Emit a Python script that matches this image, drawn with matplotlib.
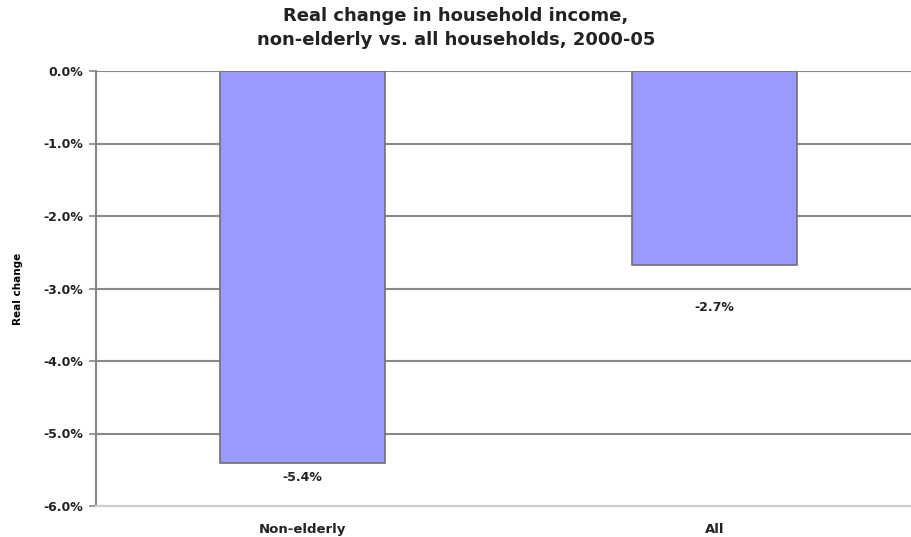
import matplotlib.pyplot as plt
from matplotlib.ticker import FuncFormatter

# dati
categorie = ['Non-elderly', 'All']
valori = [-5.4, -2.68]
etichette = ['-5.4%', '-2.7%']
scarto_etichette = [-15, -42]   # distanza etichetta sotto la barra (pixel)
tick_y = [0, -1, -2, -3, -4, -5, -6]

plt.rcParams['font.family'] = ['DejaVu Sans']

fig = plt.figure(figsize=(9.12, 5.37), dpi=100)
ax = fig.add_axes([96/912, 1 - 506/537, 825/912, 435/537])

x = range(len(categorie))
ax.bar(x, valori, width=0.4, color='#9999FF', edgecolor='#707070', linewidth=1.2, zorder=3)

for i, v in enumerate(valori):
    ax.annotate(etichette[i], (i, v), xytext=(0, scarto_etichette[i]), textcoords='offset pixels',
                ha='center', va='center', fontsize=9, fontweight='bold', color='#222222')

ax.set_xlim(-0.5, 1.5)
ax.set_ylim(-6, 0)
ax.set_yticks(tick_y)
ax.yaxis.set_major_formatter(FuncFormatter(lambda v, p: f'{v:.1f}%'))
ax.grid(axis='y', color='#888888', linewidth=1.5, zorder=0)
ax.set_axisbelow(True)

ax.set_xticks(list(x))
ax.set_xticklabels(categorie, fontsize=9.5, fontweight='bold', color='#222222')
ax.tick_params(axis='x', length=0, pad=12)
ax.tick_params(axis='y', length=5, width=1.2, color='#888888', labelsize=9, pad=4)
for t in ax.get_yticklabels():
    t.set_fontweight('bold')
    t.set_color('#222222')

ax.spines['top'].set_visible(False)
ax.spines['right'].set_visible(False)
ax.spines['left'].set_color('#888888')
ax.spines['left'].set_linewidth(1.5)
ax.spines['bottom'].set_color('#cccccc')
ax.spines['bottom'].set_linewidth(1.5)

ax.set_ylabel('Real change', fontsize=7.5, fontweight='bold')
ax.yaxis.set_label_coords(-0.088, 0.5)

fig.text(0.5, 1 - 16/537, 'Real change in household income,',
         ha='center', va='center', fontsize=13, fontweight='bold', color='#222222')
fig.text(0.5, 1 - 40/537, 'non-elderly vs. all households, 2000-05',
         ha='center', va='center', fontsize=13, fontweight='bold', color='#222222')

plt.savefig('out.png', dpi=100)
